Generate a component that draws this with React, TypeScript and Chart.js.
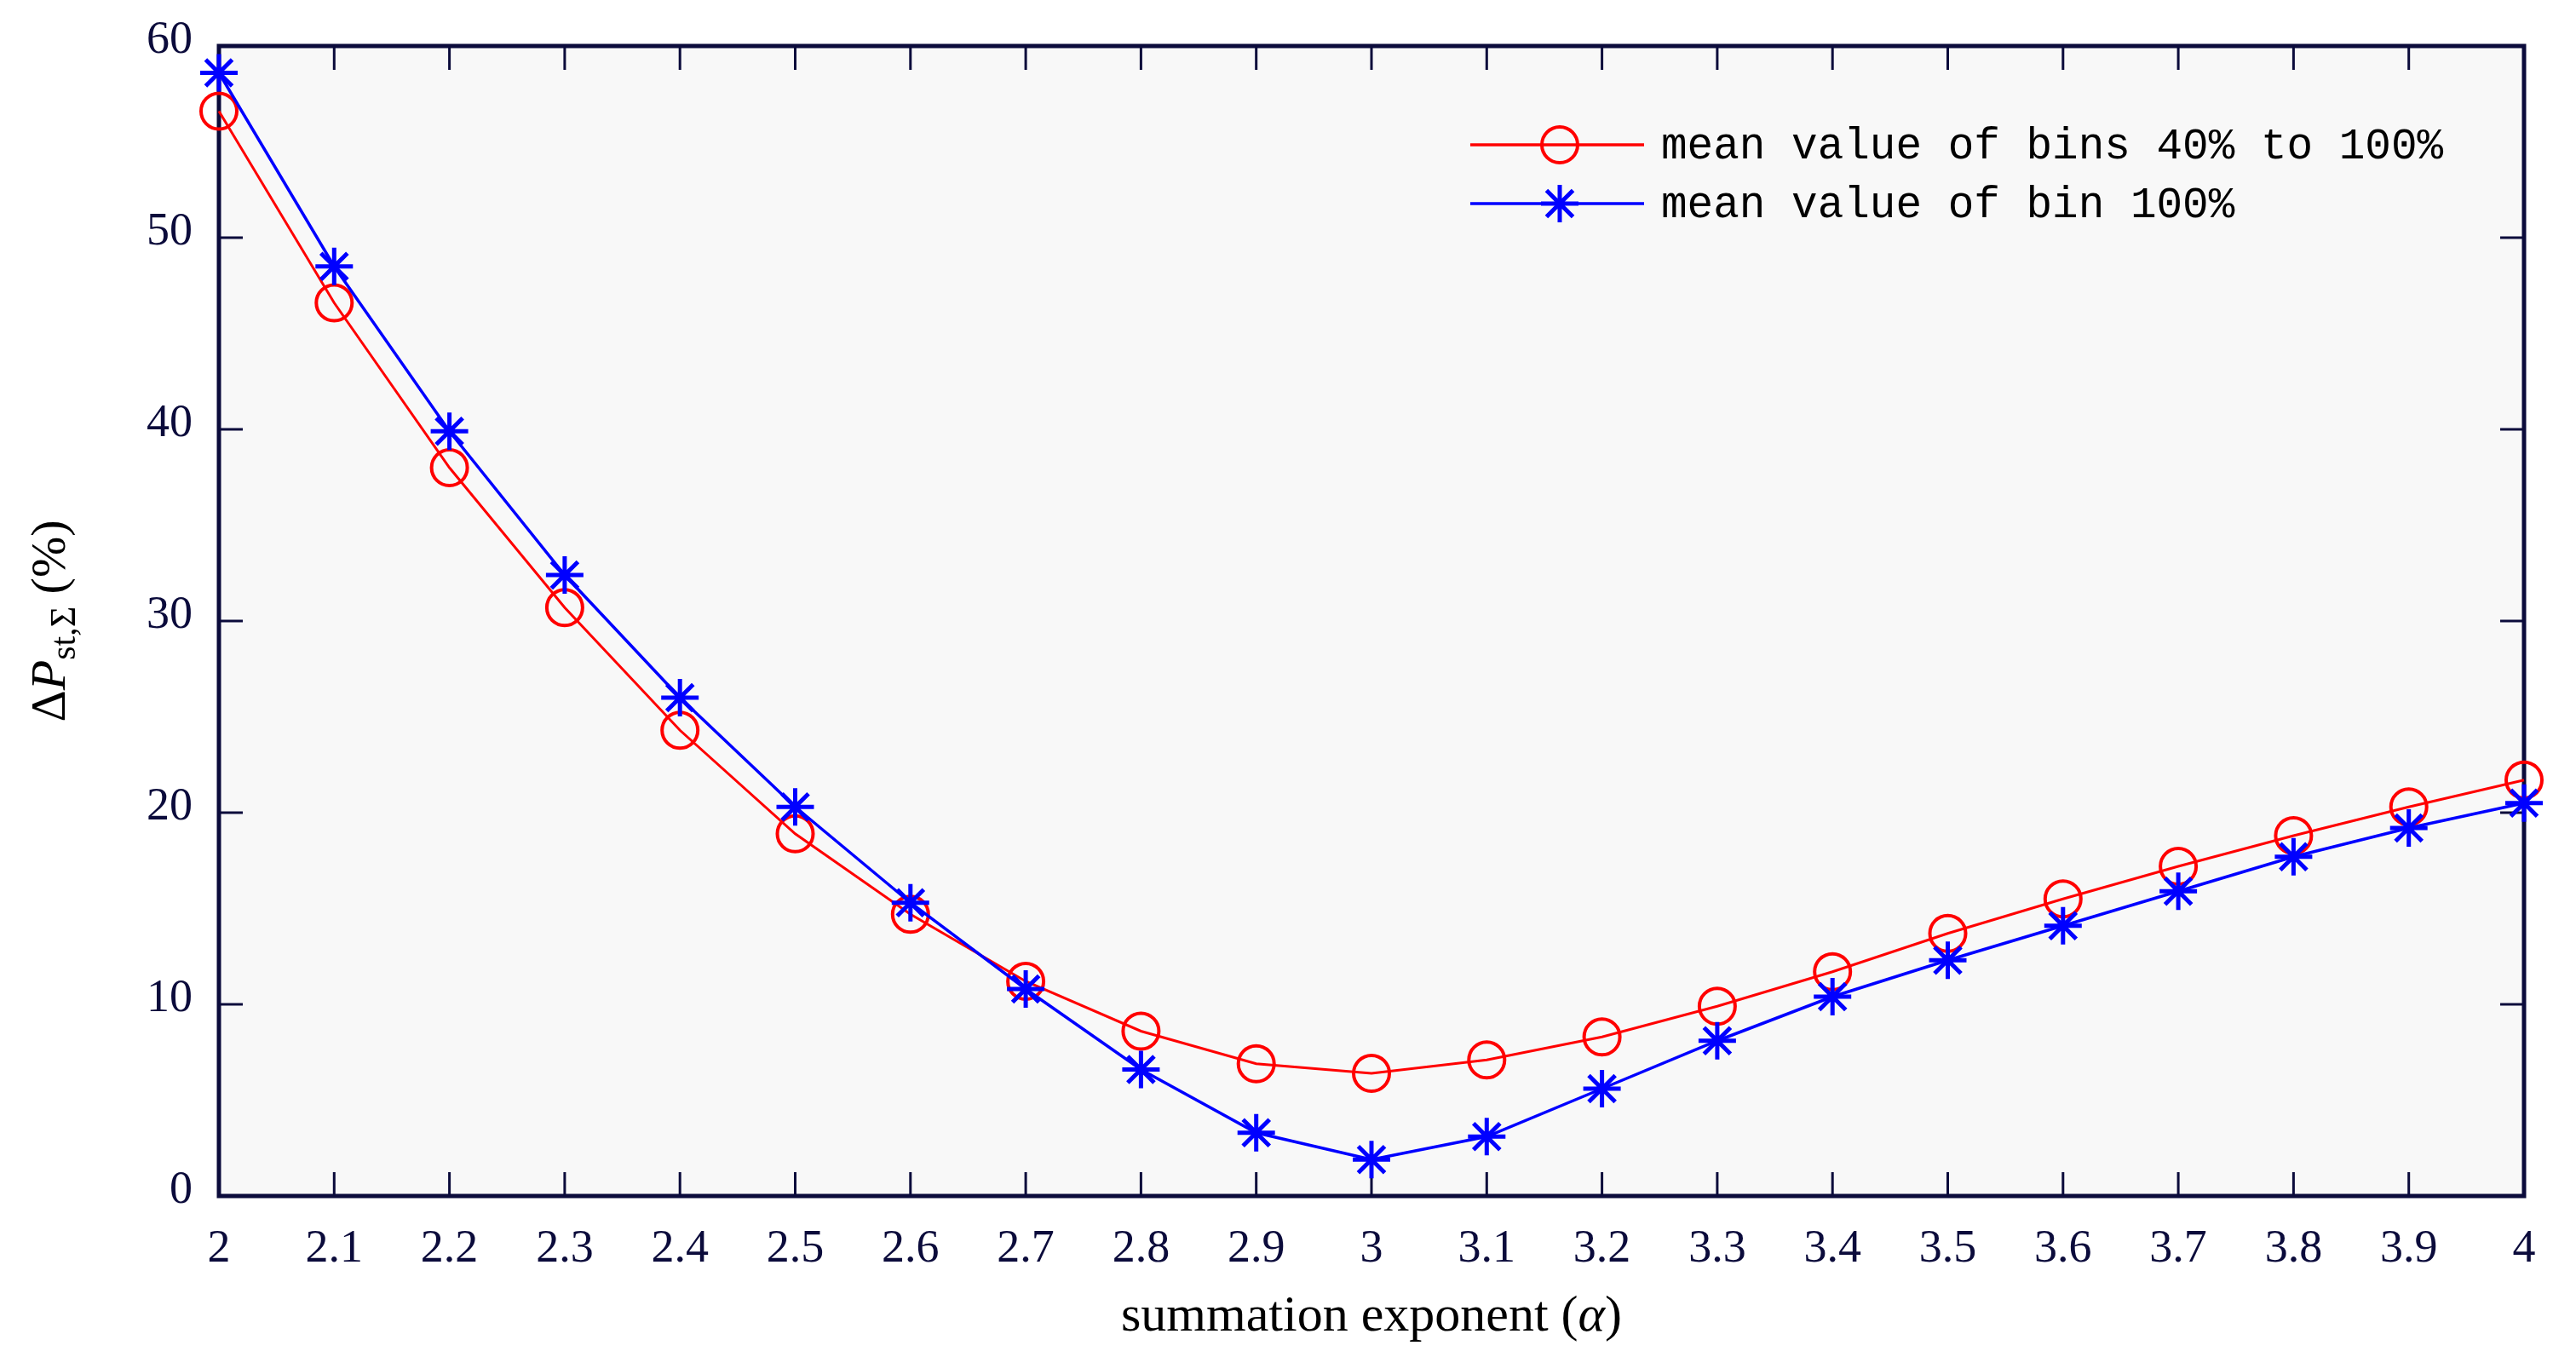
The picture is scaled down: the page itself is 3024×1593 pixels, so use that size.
import { useEffect, useRef } from "react";
import { Chart, registerables } from "chart.js";

Chart.register(...registerables);

// summation exponent (alpha) values on the x axis
const alphaLabels = [
  "2", "2.1", "2.2", "2.3", "2.4", "2.5", "2.6", "2.7", "2.8", "2.9", "3",
  "3.1", "3.2", "3.3", "3.4", "3.5", "3.6", "3.7", "3.8", "3.9", "4",
];

// mean value of bins 40% to 100%
const meanBins40to100 = [
  56.6, 46.6, 38.0, 30.7, 24.3, 18.9, 14.7, 11.2, 8.6, 6.9, 6.4,
  7.1, 8.3, 9.9, 11.7, 13.7, 15.5, 17.2, 18.8, 20.3, 21.7,
];

// mean value of bin 100%
const meanBin100 = [
  58.6, 48.5, 39.9, 32.4, 26.0, 20.3, 15.3, 10.8, 6.6, 3.3, 1.9,
  3.1, 5.6, 8.1, 10.4, 12.3, 14.1, 15.9, 17.7, 19.2, 20.5,
];

const legendLabels = ["mean value of bins 40% to 100%", "mean value of bin 100%"];

const NAVY = "#0b0b3b";
const SERIF = "'Liberation Serif', 'Times New Roman', serif";
const MONO = "'Liberation Mono', 'Courier New', monospace";

// plot frame with inward ticks on all four sides
const framePlugin = {
  id: "frame",
  beforeDatasetsDraw(chart: any) {
    const { ctx, chartArea: a, scales } = chart;
    ctx.save();
    ctx.fillStyle = "#f8f8f8";
    ctx.fillRect(a.left, a.top, a.right - a.left, a.bottom - a.top);

    ctx.strokeStyle = NAVY;
    ctx.lineWidth = 3;
    const tick = 28;
    ctx.beginPath();
    for (let i = 1; i < alphaLabels.length - 1; i++) {
      const x = scales.x.getPixelForValue(i);
      ctx.moveTo(x, a.bottom);
      ctx.lineTo(x, a.bottom - tick);
      ctx.moveTo(x, a.top);
      ctx.lineTo(x, a.top + tick);
    }
    scales.y.ticks.forEach((t: any) => {
      if (t.value === 0 || t.value === 60) return;
      const y = scales.y.getPixelForValue(t.value);
      ctx.moveTo(a.left, y);
      ctx.lineTo(a.left + tick, y);
      ctx.moveTo(a.right, y);
      ctx.lineTo(a.right - tick, y);
    });
    ctx.stroke();

    ctx.lineWidth = 5;
    ctx.strokeRect(a.left, a.top, a.right - a.left, a.bottom - a.top);
    ctx.restore();
  },
  afterDatasetsDraw(chart: any) {
    const { ctx } = chart;
    ctx.save();
    // legend inside the plot, top right
    const rows = [
      { y: 170, color: "#ff0000", marker: "circle" },
      { y: 239, color: "#0000ff", marker: "star" },
    ];
    rows.forEach((r, i) => {
      ctx.strokeStyle = r.color;
      ctx.lineWidth = 3.5;
      ctx.beginPath();
      ctx.moveTo(1726, r.y);
      ctx.lineTo(1930, r.y);
      ctx.stroke();
      ctx.lineWidth = r.marker === "circle" ? 4 : 5;
      const cx = 1831;
      ctx.beginPath();
      if (r.marker === "circle") {
        ctx.arc(cx, r.y, 21, 0, Math.PI * 2);
      } else {
        const R = 22;
        for (let k = 0; k < 4; k++) {
          const ang = (k * Math.PI) / 4;
          ctx.moveTo(cx - R * Math.cos(ang), r.y - R * Math.sin(ang));
          ctx.lineTo(cx + R * Math.cos(ang), r.y + R * Math.sin(ang));
        }
      }
      ctx.stroke();
      ctx.fillStyle = "#000";
      ctx.font = `51px ${MONO}`;
      ctx.textBaseline = "middle";
      ctx.textAlign = "left";
      ctx.fillText(legendLabels[i], 1950, r.y + 2);
    });
    ctx.restore();
  },
  afterDraw(chart: any) {
    const { ctx, chartArea: a } = chart;
    ctx.save();
    ctx.fillStyle = "#000";
    ctx.textBaseline = "alphabetic";
    const fs = 60;

    // x title: summation exponent (α)
    const parts: [string, string][] = [
      ["summation exponent (", `${fs}px ${SERIF}`],
      ["α", `italic ${fs}px ${SERIF}`],
      [")", `${fs}px ${SERIF}`],
    ];
    let w = 0;
    parts.forEach(([t, f]) => {
      ctx.font = f;
      w += ctx.measureText(t).width;
    });
    let x = (a.left + a.right) / 2 - w / 2;
    parts.forEach(([t, f]) => {
      ctx.font = f;
      ctx.fillText(t, x, 1562);
      x += ctx.measureText(t).width;
    });

    // y title: ΔP_st,Σ (%)
    const yfs = 58;
    const yParts: [string, string, number][] = [
      ["Δ", `${yfs}px ${SERIF}`, 0],
      ["P", `italic ${yfs}px ${SERIF}`, 0],
      ["st,Σ", `${Math.round(yfs * 0.72)}px ${SERIF}`, 12],
      [" (%)", `${yfs}px ${SERIF}`, 0],
    ];
    let yw = 0;
    yParts.forEach(([t, f]) => {
      ctx.font = f;
      yw += ctx.measureText(t).width;
    });
    ctx.translate(76, (a.top + a.bottom) / 2);
    ctx.rotate(-Math.PI / 2);
    let px = -yw / 2;
    yParts.forEach(([t, f, dy]) => {
      ctx.font = f;
      ctx.fillText(t, px, dy);
      px += ctx.measureText(t).width;
    });
    ctx.restore();
  },
};

export default function App() {
  const canvasRef = useRef<HTMLCanvasElement | null>(null);
  const chartRef = useRef<Chart | null>(null);

  useEffect(() => {
    if (!canvasRef.current) return;
    const ctx = canvasRef.current.getContext("2d");
    if (!ctx) return;

    chartRef.current = new Chart(ctx, {
      type: "line",
      data: {
        labels: alphaLabels,
        datasets: [
          {
            label: legendLabels[0],
            data: meanBins40to100,
            borderColor: "#ff0000",
            borderWidth: 3,
            pointStyle: "circle",
            pointRadius: 21,
            pointBorderWidth: 4,
            pointBorderColor: "#ff0000",
            pointBackgroundColor: "rgba(0,0,0,0)",
            tension: 0,
            clip: false,
            order: 2,
          },
          {
            label: legendLabels[1],
            data: meanBin100,
            borderColor: "#0000ff",
            borderWidth: 3.5,
            pointStyle: "star",
            pointRadius: 22,
            pointBorderWidth: 5,
            pointBorderColor: "#0000ff",
            pointBackgroundColor: "#0000ff",
            tension: 0,
            clip: false,
            order: 1,
          },
        ],
      },
      options: {
        animation: false,
        responsive: true,
        maintainAspectRatio: false,
        layout: { padding: { top: 54, right: 61, left: 0, bottom: 0 } },
        plugins: {
          legend: { display: false },
          tooltip: { enabled: false },
        },
        scales: {
          x: {
            type: "category",
            offset: false,
            grid: { display: false, drawTicks: false },
            border: { display: false },
            ticks: {
              autoSkip: false,
              maxRotation: 0,
              padding: 30,
              color: NAVY,
              font: { family: SERIF, size: 54 },
            },
            afterFit: (s: any) => {
              s.height = 189;
            },
          },
          y: {
            min: 0,
            max: 60,
            grid: { display: false, drawTicks: false },
            border: { display: false },
            ticks: {
              stepSize: 10,
              padding: 31,
              labelOffset: -6,
              color: NAVY,
              font: { family: SERIF, size: 54 },
            },
            afterFit: (s: any) => {
              s.width = 257;
              s.paddingTop = 0;
              s.paddingBottom = 0;
            },
          },
        },
      } as any,
      plugins: [framePlugin],
    });

    return () => {
      chartRef.current?.destroy();
      chartRef.current = null;
    };
  }, []);

  return (
    <div
      style={{
        position: "fixed",
        left: 0,
        top: 0,
        width: "100vw",
        height: "100vh",
        background: "#fff",
      }}
    >
      <canvas ref={canvasRef}></canvas>
    </div>
  );
}
